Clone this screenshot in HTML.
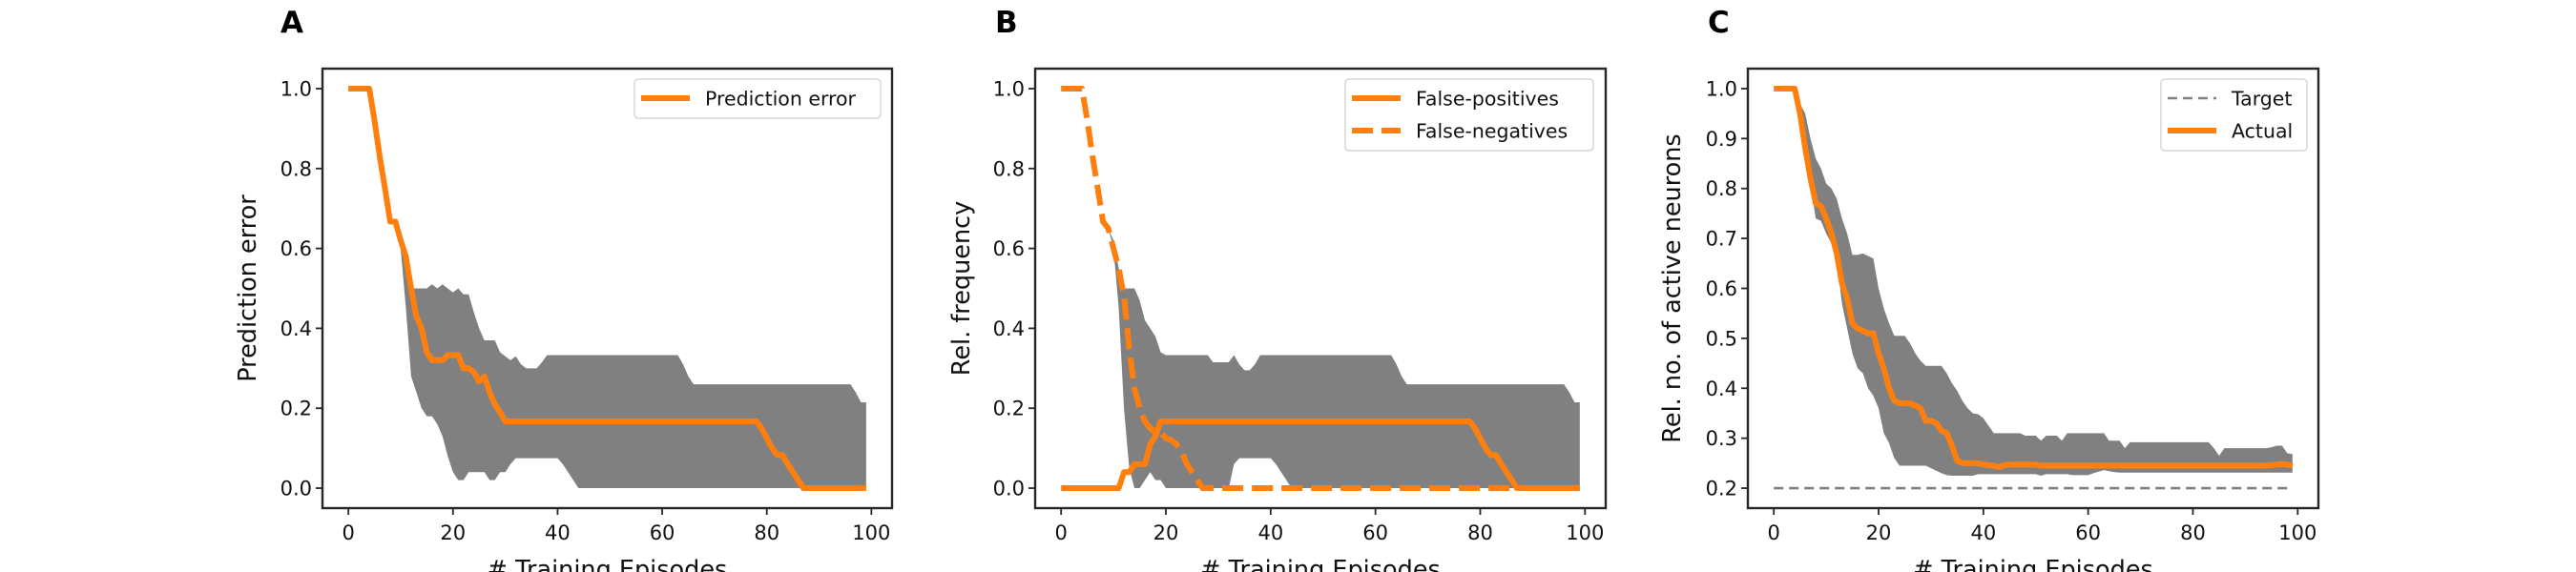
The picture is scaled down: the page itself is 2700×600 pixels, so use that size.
<!DOCTYPE html>
<html><head><meta charset="utf-8"><style>
html,body{margin:0;padding:0;background:#fff;}
svg{display:block;font-family:"DejaVu Sans","Liberation Sans",sans-serif;}
</style></head><body>
<svg id="fig" width="2700" height="600" viewBox="0 0 2700 600"></svg>
<script>
const episodes = Array.from({length:100},(_,i)=>i);
const xTicks = [0,20,40,60,80,100];
const yTicksAB = [0.0,0.2,0.4,0.6,0.8,1.0];
const yTicksC = [0.2,0.3,0.4,0.5,0.6,0.7,0.8,0.9,1.0];

const predMean = [1,1,1,1,1,0.92,0.83,0.75,0.667,0.667,0.62,0.58,0.5,0.43,0.4,0.34,0.32,0.32,0.32,0.333,0.333,0.333,0.3,0.3,0.29,0.267,0.28,0.24,0.21,0.19,
0.167,0.167,0.167,0.167,0.167,0.167,0.167,0.167,0.167,0.167,0.167,0.167,0.167,0.167,0.167,0.167,0.167,0.167,0.167,0.167,0.167,0.167,0.167,0.167,0.167,0.167,0.167,0.167,0.167,0.167,
0.167,0.167,0.167,0.167,0.167,0.167,0.167,0.167,0.167,0.167,0.167,0.167,0.167,0.167,0.167,0.167,0.167,0.167,0.167,0.15,0.125,0.1,0.083,0.083,0.06,0.04,0.02,0,0,0,
0,0,0,0,0,0,0,0,0,0];
const predUpper = [1,1,1,1,1,0.92,0.83,0.75,0.667,0.667,0.62,0.56,0.5,0.5,0.5,0.5,0.51,0.5,0.51,0.5,0.49,0.5,0.485,0.485,0.44,0.4,0.37,0.37,0.37,0.34,
0.33,0.32,0.33,0.31,0.3,0.3,0.3,0.315,0.333,0.333,0.333,0.333,0.333,0.333,0.333,0.333,0.333,0.333,0.333,0.333,0.333,0.333,0.333,0.333,0.333,0.333,0.333,0.333,0.333,0.333,
0.333,0.333,0.333,0.333,0.31,0.28,0.26,0.26,0.26,0.26,0.26,0.26,0.26,0.26,0.26,0.26,0.26,0.26,0.26,0.26,0.26,0.26,0.26,0.26,0.26,0.26,0.26,0.26,0.26,0.26,
0.26,0.26,0.26,0.26,0.26,0.26,0.26,0.24,0.215,0.215];
const predLower = [1,1,1,1,1,0.92,0.83,0.75,0.667,0.667,0.6,0.45,0.28,0.24,0.2,0.18,0.18,0.16,0.13,0.08,0.04,0.02,0.02,0.04,0.04,0.04,0.04,0.02,0.02,0.04,
0.04,0.06,0.075,0.075,0.075,0.075,0.075,0.075,0.075,0.075,0.075,0.06,0.04,0.02,0,0,0,0,0,0,0,0,0,0,0,0,0,0,0,0,
0,0,0,0,0,0,0,0,0,0,0,0,0,0,0,0,0,0,0,0,0,0,0,0,0,0,0,0,0,0,
0,0,0,0,0,0,0,0,0,0];

const fpMean = [0,0,0,0,0,0,0,0,0,0,0,0,0.04,0.04,0.06,0.06,0.06,0.11,0.13,0.167,
0.167,0.167,0.167,0.167,0.167,0.167,0.167,0.167,0.167,0.167,0.167,0.167,0.167,0.167,0.167,0.167,0.167,0.167,0.167,0.167,
0.167,0.167,0.167,0.167,0.167,0.167,0.167,0.167,0.167,0.167,0.167,0.167,0.167,0.167,0.167,0.167,0.167,0.167,0.167,0.167,
0.167,0.167,0.167,0.167,0.167,0.167,0.167,0.167,0.167,0.167,0.167,0.167,0.167,0.167,0.167,0.167,0.167,0.167,0.167,0.15,
0.125,0.1,0.083,0.083,0.06,0.04,0.02,0,0,0,0,0,0,0,0,0,0,0,0,0];
const fnMean = [1,1,1,1,1,0.92,0.83,0.75,0.667,0.65,0.6,0.55,0.48,0.35,0.25,0.2,0.167,0.15,0.14,0.14,
0.125,0.12,0.11,0.09,0.06,0.04,0.02,0,0,0,0,0,0,0,0,0,0,0,0,0,
0,0,0,0,0,0,0,0,0,0,0,0,0,0,0,0,0,0,0,0,0,0,0,0,0,0,0,0,0,0,0,0,0,0,0,0,0,0,0,0,
0,0,0,0,0,0,0,0,0,0,0,0,0,0,0,0,0,0,0,0];
const errUpper = [1,1,1,1,1,0.92,0.83,0.75,0.667,0.65,0.62,0.55,0.5,0.5,0.5,0.47,0.42,0.4,0.38,0.34,
0.333,0.333,0.333,0.333,0.333,0.333,0.333,0.333,0.333,0.315,0.315,0.315,0.315,0.333,0.31,0.295,0.295,0.31,0.333,0.333,
0.333,0.333,0.333,0.333,0.333,0.333,0.333,0.333,0.333,0.333,0.333,0.333,0.333,0.333,0.333,0.333,0.333,0.333,0.333,0.333,
0.333,0.333,0.333,0.333,0.31,0.28,0.26,0.26,0.26,0.26,0.26,0.26,0.26,0.26,0.26,0.26,0.26,0.26,0.26,0.26,
0.26,0.26,0.26,0.26,0.26,0.26,0.26,0.26,0.26,0.26,0.26,0.26,0.26,0.26,0.26,0.26,0.26,0.24,0.215,0.215];
const errLower = [1,1,1,1,1,0.92,0.83,0.75,0.667,0.65,0.6,0.45,0.2,0.05,0,0,0.02,0.04,0.02,0.02,
0,0,0,0,0,0,0,0,0,0,0,0,0,0.06,0.075,0.075,0.075,0.075,0.075,0.075,
0.075,0.06,0.04,0.02,0,0,0,0,0,0,0,0,0,0,0,0,0,0,0,0,0,0,0,0,0,0,0,0,0,0,0,0,0,0,0,0,0,0,0,0,
0,0,0,0,0,0,0,0,0,0,0,0,0,0,0,0,0,0,0,0];

const actMean = [1,1,1,1,1,0.95,0.88,0.82,0.77,0.765,0.74,0.71,0.67,0.61,0.58,0.53,0.52,0.515,0.51,0.51,
0.47,0.44,0.4,0.375,0.37,0.37,0.37,0.365,0.36,0.335,0.335,0.33,0.315,0.31,0.285,0.255,0.25,0.25,0.25,0.25,
0.247,0.246,0.245,0.242,0.246,0.247,0.247,0.247,0.247,0.247,0.247,0.245,0.245,0.245,0.245,0.245,0.245,0.245,0.245,0.245,
0.245,0.245,0.245,0.245,0.245,0.245,0.245,0.245,0.245,0.245,0.245,0.245,0.245,0.245,0.245,0.245,0.245,0.245,0.245,0.245,
0.245,0.245,0.245,0.245,0.245,0.245,0.245,0.245,0.245,0.245,0.245,0.245,0.245,0.245,0.245,0.246,0.247,0.248,0.247,0.245];
const actUpper = [1,1,1,1,1,0.97,0.95,0.9,0.86,0.84,0.81,0.8,0.78,0.74,0.71,0.667,0.667,0.67,0.665,0.66,
0.6,0.56,0.53,0.505,0.505,0.505,0.49,0.47,0.455,0.445,0.445,0.445,0.445,0.43,0.41,0.395,0.375,0.36,0.35,0.348,
0.34,0.325,0.31,0.31,0.31,0.31,0.31,0.31,0.305,0.305,0.305,0.295,0.305,0.305,0.305,0.295,0.31,0.31,0.31,0.31,
0.31,0.31,0.31,0.31,0.295,0.295,0.295,0.28,0.292,0.292,0.292,0.292,0.292,0.292,0.292,0.292,0.292,0.292,0.292,0.292,
0.292,0.292,0.292,0.292,0.28,0.265,0.28,0.28,0.28,0.28,0.28,0.28,0.28,0.28,0.28,0.282,0.285,0.285,0.27,0.268];
const actLower = [1,1,1,1,1,0.94,0.9,0.81,0.74,0.735,0.71,0.69,0.66,0.57,0.52,0.47,0.44,0.43,0.4,0.385,
0.36,0.31,0.29,0.26,0.245,0.245,0.245,0.245,0.245,0.245,0.24,0.235,0.23,0.226,0.225,0.225,0.225,0.225,0.225,0.228,
0.228,0.228,0.228,0.228,0.228,0.228,0.228,0.228,0.228,0.228,0.228,0.225,0.228,0.228,0.228,0.228,0.228,0.226,0.226,0.226,
0.226,0.23,0.233,0.236,0.234,0.232,0.231,0.231,0.231,0.231,0.231,0.231,0.231,0.231,0.231,0.231,0.231,0.231,0.231,0.231,
0.231,0.231,0.231,0.231,0.231,0.231,0.231,0.231,0.231,0.231,0.231,0.231,0.231,0.231,0.231,0.231,0.231,0.231,0.231,0.231];
const targetLevel = [0.2];

const NS = "http://www.w3.org/2000/svg";
const svg = document.getElementById('fig');
function mk(tag, attrs, parent){const e=document.createElementNS(NS,tag);for(const k in attrs)e.setAttribute(k,attrs[k]);(parent||svg).appendChild(e);return e;}

function panel(cfg){
  const g = mk('g',{});
  
  
  const L=cfg.left,R=cfg.right,T=72,B=533;
  const xs = v => L + (v - (-4.95)) / 108.9 * (R-L);
  const ys = v => B - (v - cfg.ymin) / (cfg.ymax - cfg.ymin) * (B-T);
  const clip = mk('clipPath',{id:'clip'+cfg.letter},g);
  mk('rect',{x:L,y:T,width:R-L,height:B-T},clip);
  const plot = mk('g',{'clip-path':'url(#clip'+cfg.letter+')'},g);
  if(cfg.upper){
    let d='M'+episodes.map((e,i)=>xs(e)+','+ys(cfg.upper[i])).join(' L');
    for(let i=episodes.length-1;i>=0;i--) d+=' L'+xs(episodes[i])+','+ys(cfg.lower[i]);
    const band = mk('path',{d:d+'Z',fill:'#808080',stroke:'none'},plot);
    
    
  }
  cfg.series.forEach(s=>{
    const vals = s.values.length===1 ? episodes.map(()=>s.values[0]) : s.values;
    const d='M'+episodes.map((e,i)=>xs(e)+','+ys(vals[i])).join(' L');
    const p = mk('path',{d:d,fill:'none',stroke:s.color,'stroke-width':s.w,'stroke-dasharray':s.dash||'none','stroke-linejoin':'round'},plot);
    
    
  });
  const frame = mk('rect',{x:L,y:T,width:R-L,height:B-T,fill:'none',stroke:'#262626','stroke-width':2.4},g);
  
  
  xTicks.forEach(t=>{
    mk('line',{x1:xs(t),x2:xs(t),y1:B,y2:B+7,stroke:'#262626','stroke-width':1.8},g);
    const tx = mk('text',{x:xs(t),y:B+33,'text-anchor':'middle','font-size':21,fill:'#111'},g);
    tx.textContent=t;
    
    
  });
  cfg.yticks.forEach(t=>{
    mk('line',{x1:L-7,x2:L,y1:ys(t),y2:ys(t),stroke:'#262626','stroke-width':1.8},g);
    const ty = mk('text',{x:L-11,y:ys(t)+7.5,'text-anchor':'end','font-size':21,fill:'#111'},g);
    ty.textContent=t.toFixed(1);
    
    
  });
  const xl = mk('text',{x:(L+R)/2,y:606,'text-anchor':'middle','font-size':25.5,fill:'#111'},g);
  xl.textContent='# Training Episodes';
  
  
  const yl = mk('text',{x:0,y:0,'text-anchor':'middle','font-size':25.5,fill:'#111',transform:'translate('+cfg.ylx+','+((T+B)/2)+') rotate(-90)'},g);
  yl.textContent=cfg.ylabel;
  
  
  const pl = mk('text',{x:cfg.letterX,y:34,'font-size':31,'font-weight':'bold',fill:'#000'},g);
  pl.textContent=cfg.letter;
  
  
  const lg = mk('g',{},g);
  
  
  const lb=cfg.legend;
  mk('rect',{x:lb.x,y:83,width:lb.w,height:lb.h,rx:4,fill:'#fff',stroke:'#d6d6d6','stroke-width':1.5},lg);
  lb.items.forEach((it,i)=>{
    const yy=103+i*34;
    mk('line',{x1:lb.x+7,x2:lb.x+58,y1:yy,y2:yy,stroke:it.color,'stroke-width':it.w,'stroke-dasharray':it.dash||'none'},lg);
    const te=mk('text',{x:lb.x+74,y:yy+7.5,'font-size':20.5,fill:'#111'},lg);
    te.textContent=it.label;
    
    
  });
}
const OR='#ff7f0e';
panel({name:'panel-a',letter:'A',letterX:294,left:338,right:935,ymin:-0.05,ymax:1.05,yticks:yTicksAB,ylabel:'Prediction error',ylx:268,
  upper:predUpper,lower:predLower,
  series:[{name:'prediction-error-line',values:predMean,color:OR,w:6}],
  legend:{x:665,w:258,h:41,items:[{label:'Prediction error',color:OR,w:6}]}});
panel({name:'panel-b',letter:'B',letterX:1043,left:1085,right:1683,ymin:-0.05,ymax:1.05,yticks:yTicksAB,ylabel:'Rel. frequency',ylx:1016,
  upper:errUpper,lower:errLower,
  series:[{name:'false-positives-line',values:fpMean,color:OR,w:6},{name:'false-negatives-line',values:fnMean,color:OR,w:6,dash:'22,9'}],
  legend:{x:1410,w:260,h:75,items:[{label:'False-positives',color:OR,w:6},{label:'False-negatives',color:OR,w:6,dash:'22,9'}]}});
panel({name:'panel-c',letter:'C',letterX:1790,left:1832,right:2430,ymin:0.16,ymax:1.04,yticks:yTicksC,ylabel:'Rel. no. of active neurons',ylx:1761,
  upper:actUpper,lower:actLower,
  series:[{name:'target-line',values:targetLevel,color:'#808080',w:2.6,dash:'10,6'},{name:'actual-line',values:actMean,color:OR,w:6}],
  legend:{x:2265,w:153,h:75,items:[{label:'Target',color:'#808080',w:2.6,dash:'10,6'},{label:'Actual',color:OR,w:6}]}});
</script>
</body></html>
